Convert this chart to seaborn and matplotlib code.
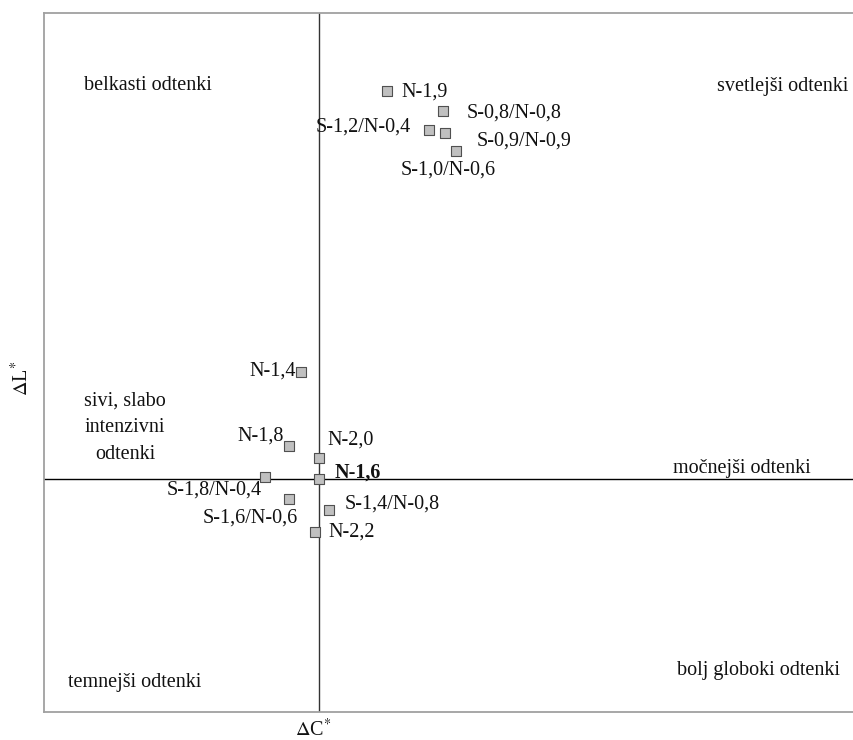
import matplotlib
matplotlib.use("Agg")
import matplotlib.pyplot as plt
import seaborn as sns
import pandas as pd

# Colour differences of each sample against the reference N-1,6
samples = ["N-1,9", "S-0,8/N-0,8", "S-1,2/N-0,4", "S-0,9/N-0,9", "S-1,0/N-0,6",
           "N-1,4", "N-1,8", "N-2,0", "N-1,6", "S-1,8/N-0,4",
           "S-1,6/N-0,6", "S-1,4/N-0,8", "N-2,2"]
delta_c = [1.36, 2.48, 2.20, 2.52, 2.75,
           -0.35, -0.59, 0.01, 0.00, -1.08,
           -0.59, 0.20, -0.08]
delta_l = [7.76, 7.36, 6.98, 6.93, 6.57,
           2.14, 0.66, 0.43, 0.00, 0.05,
           -0.39, -0.62, -1.05]

# Quadrant descriptions
quad_labels = ["belkasti odtenki", "svetlejši odtenki", "sivi, slabo\nintenzivni\nodtenki",
               "močnejši odtenki", "temnejši odtenki", "bolj globoki odtenki"]

df = pd.DataFrame({"sample": samples, "dC": delta_c, "dL": delta_l})

sns.set_theme(style="white")
plt.rcParams["font.family"] = ["Liberation Serif", "DejaVu Serif"]
plt.rcParams["mathtext.fontset"] = "stix"
FS = 14.5

W, H = 854, 740
fig = plt.figure(figsize=(W / 100, H / 100), dpi=100)
ax = fig.add_axes([44 / W, 28 / H, 810 / W, 699 / H])

ax.axvline(0, color="#333333", lw=1.0, zorder=1)
ax.axhline(0, color="#000000", lw=1.0, zorder=1)

sns.scatterplot(data=df, x="dC", y="dL", marker="s", s=46, color="#c0c0c0",
                edgecolor="#505050", linewidth=0.8, ax=ax, zorder=3, legend=False)

ax.set_xlim(-5.5, 10.7)
ax.set_ylim(-4.66, 9.32)
ax.set_xticks([])
ax.set_yticks([])
ax.set_xlabel("")
ax.set_ylabel("")
for side in ["left", "top", "bottom"]:
    ax.spines[side].set_color("#a0a0a0")
    ax.spines[side].set_linewidth(1.3)
ax.spines["right"].set_visible(False)

# label placement: (dx px, dy px, horizontal alignment)
placement = {
    "N-1,9": (14, -1, "left"),
    "S-0,8/N-0,8": (24, -2, "left"),
    "S-1,2/N-0,4": (-18, 3, "right"),
    "S-0,9/N-0,9": (32, -8.5, "left"),
    "S-1,0/N-0,6": (-8.5, -19.5, "center"),
    "N-1,4": (-6, 1, "right"),
    "N-1,8": (-6, 10, "right"),
    "N-2,0": (8, 17, "left"),
    "N-1,6": (16, 6, "left"),
    "S-1,8/N-0,4": (-3, -14, "right"),
    "S-1,6/N-0,6": (8, -20, "right"),
    "S-1,4/N-0,8": (16, 6, "left"),
    "N-2,2": (13, -1, "left"),
}
for name, x, y in zip(samples, delta_c, delta_l):
    dx, dy, ha = placement[name]
    ax.annotate(name, (x, y), xytext=(dx, dy), textcoords="offset pixels",
                ha=ha, va="center", fontsize=FS, color="#111111",
                fontweight="bold" if name == "N-1,6" else "normal", zorder=4)


def px(x, y):
    return x / W, 1 - y / H


quad_pos = [((84, 86), "left"), ((848, 86), "right"), ((125, 428), "center"),
            ((673, 468), "left"), ((68, 683), "left"), ((840, 670), "right")]
for text, ((qx, qy), ha) in zip(quad_labels, quad_pos):
    fig.text(*px(qx, qy), text, ha=ha, va="center", fontsize=FS,
             color="#111111", linespacing=1.55)

fig.text(*px(313, 730), r"$\Delta$C$^{*}$", ha="center", va="center", fontsize=FS, color="#111111")
fig.text(*px(22, 378), r"$\Delta$L$^{*}$", ha="center", va="center", fontsize=FS,
         rotation=90, color="#111111")

fig.savefig("out.png", dpi=100)
